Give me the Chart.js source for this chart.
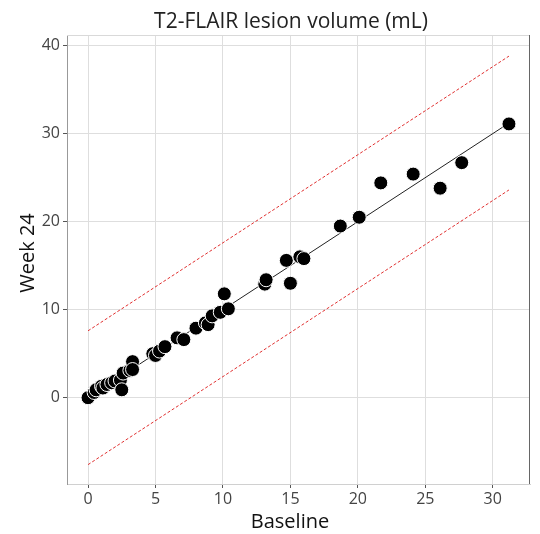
<!DOCTYPE html>
<html>
<head>
<meta charset="utf-8">
<script src="https://cdn.jsdelivr.net/npm/chart.js@4"></script>
<style>
    html, body { margin: 0; padding: 0; background: #fff; }
    #wrap { width: 540px; height: 534px; }
</style>
</head>
<body>
<div id="wrap"><canvas id="lesionChart" width="540" height="534"></canvas></div>
<script>
// lesion volume, baseline vs week 24 (mL)
const baseline = [0, 0.45, 0.6, 1.0, 1.1, 1.4, 1.75, 2.0, 2.4, 2.5, 2.6, 3.1, 3.3, 3.3, 4.8, 5.0, 5.3, 5.7, 6.6, 7.1,
    8.0, 8.7, 8.9, 9.2, 9.8, 10.1, 10.4, 13.1, 13.2, 14.7, 15.0, 15.7, 16.0, 18.7, 20.1, 21.7, 24.1, 26.1, 27.7, 31.2]
const week24 = [0, 0.6, 0.9, 1.3, 1.1, 1.5, 1.7, 1.9, 2.0, 0.9, 2.8, 3.1, 4.1, 3.2, 5.0, 4.8, 5.3, 5.8, 6.8, 6.6,
    7.9, 8.5, 8.3, 9.3, 9.7, 11.8, 10.1, 12.9, 13.4, 15.6, 13.0, 16.0, 15.8, 19.5, 20.5, 24.4, 25.4, 23.8, 26.7, 31.1]

// line end points (x at both ends, y for each line)
const lineX = [0, 31.2]
const fitY = [0, 31.2]
const upperY = [7.6, 38.8]
const lowerY = [-7.6, 23.6]

const xTicks = [0, 5, 10, 15, 20, 25, 30]
const yTicks = [0, 10, 20, 30, 40]

const FONT = "'Open Sans', 'Noto Sans', sans-serif"

function pairs(xs, ys) {
    return xs.map((x, i) => ({ x: x, y: ys[i] }))
}

// panel border, title and axis titles
const panelPlugin = {
    id: 'panel',
    afterDraw: function (chart) {
        const a = chart.chartArea
        const ctx = chart.ctx
        ctx.save()
        ctx.lineWidth = 1
        ctx.strokeStyle = '#d9d9d9'
        ctx.beginPath()
        ctx.moveTo(a.left, a.top + 0.5)
        ctx.lineTo(a.right, a.top + 0.5)
        ctx.stroke()
        ctx.strokeStyle = '#666'
        ctx.beginPath()
        ctx.moveTo(a.right - 0.5, a.top)
        ctx.lineTo(a.right - 0.5, a.bottom)
        ctx.stroke()

        ctx.textAlign = 'center'
        ctx.textBaseline = 'alphabetic'
        ctx.fillStyle = '#222'
        ctx.font = "21px " + FONT
        ctx.fillText('T2-FLAIR lesion volume (mL)', 291, 28)

        ctx.fillStyle = '#111'
        ctx.font = "20px " + FONT
        ctx.fillText('Baseline', 290, 528)

        ctx.translate(34, 253)
        ctx.rotate(-Math.PI / 2)
        ctx.fillText('Week 24', 0, 0)
        ctx.restore()
    }
}

var ctx = document.getElementById('lesionChart').getContext('2d')
var lesionChart = new Chart(ctx, {
    type: 'scatter',
    data: {
        datasets: [{
            label: 'patients',
            data: pairs(baseline, week24),
            backgroundColor: '#000',
            borderColor: '#fff',
            borderWidth: 1,
            pointRadius: 7,
            order: 0
        }, {
            label: 'fit',
            type: 'line',
            data: pairs(lineX, fitY),
            borderColor: '#222',
            borderWidth: 1,
            pointRadius: 0,
            fill: false,
            order: 1
        }, {
            label: 'upper',
            type: 'line',
            data: pairs(lineX, upperY),
            borderColor: '#e03030',
            borderWidth: 1,
            borderDash: [3, 2],
            pointRadius: 0,
            fill: false,
            order: 1
        }, {
            label: 'lower',
            type: 'line',
            data: pairs(lineX, lowerY),
            borderColor: '#e03030',
            borderWidth: 1,
            borderDash: [3, 2],
            pointRadius: 0,
            fill: false,
            order: 1
        }]
    },
    options: {
        responsive: false,
        animation: false,
        layout: {
            padding: { top: 35, right: 10, bottom: 0, left: 0 }
        },
        plugins: {
            legend: { display: false },
            tooltip: { enabled: false }
        },
        scales: {
            x: {
                type: 'linear',
                min: -1.56,
                max: 32.76,
                afterBuildTicks: function (axis) {
                    axis.ticks = xTicks.map(v => ({ value: v }))
                },
                afterFit: function (axis) {
                    axis.height = 50
                },
                grid: {
                    color: '#dedede',
                    tickColor: '#555',
                    tickLength: 4
                },
                border: { color: '#d0d0d0' },
                ticks: {
                    color: '#444',
                    padding: 2,
                    font: { family: FONT, size: 16 }
                }
            },
            y: {
                type: 'linear',
                min: -9.8,
                max: 41.2,
                afterBuildTicks: function (axis) {
                    axis.ticks = yTicks.map(v => ({ value: v }))
                },
                afterFit: function (axis) {
                    axis.width = 67
                },
                grid: {
                    color: '#dedede',
                    tickColor: '#555',
                    tickLength: 4
                },
                border: { color: '#999' },
                ticks: {
                    color: '#444',
                    padding: 3,
                    font: { family: FONT, size: 16 }
                }
            }
        }
    },
    plugins: [panelPlugin]
});
</script>
</body>
</html>
